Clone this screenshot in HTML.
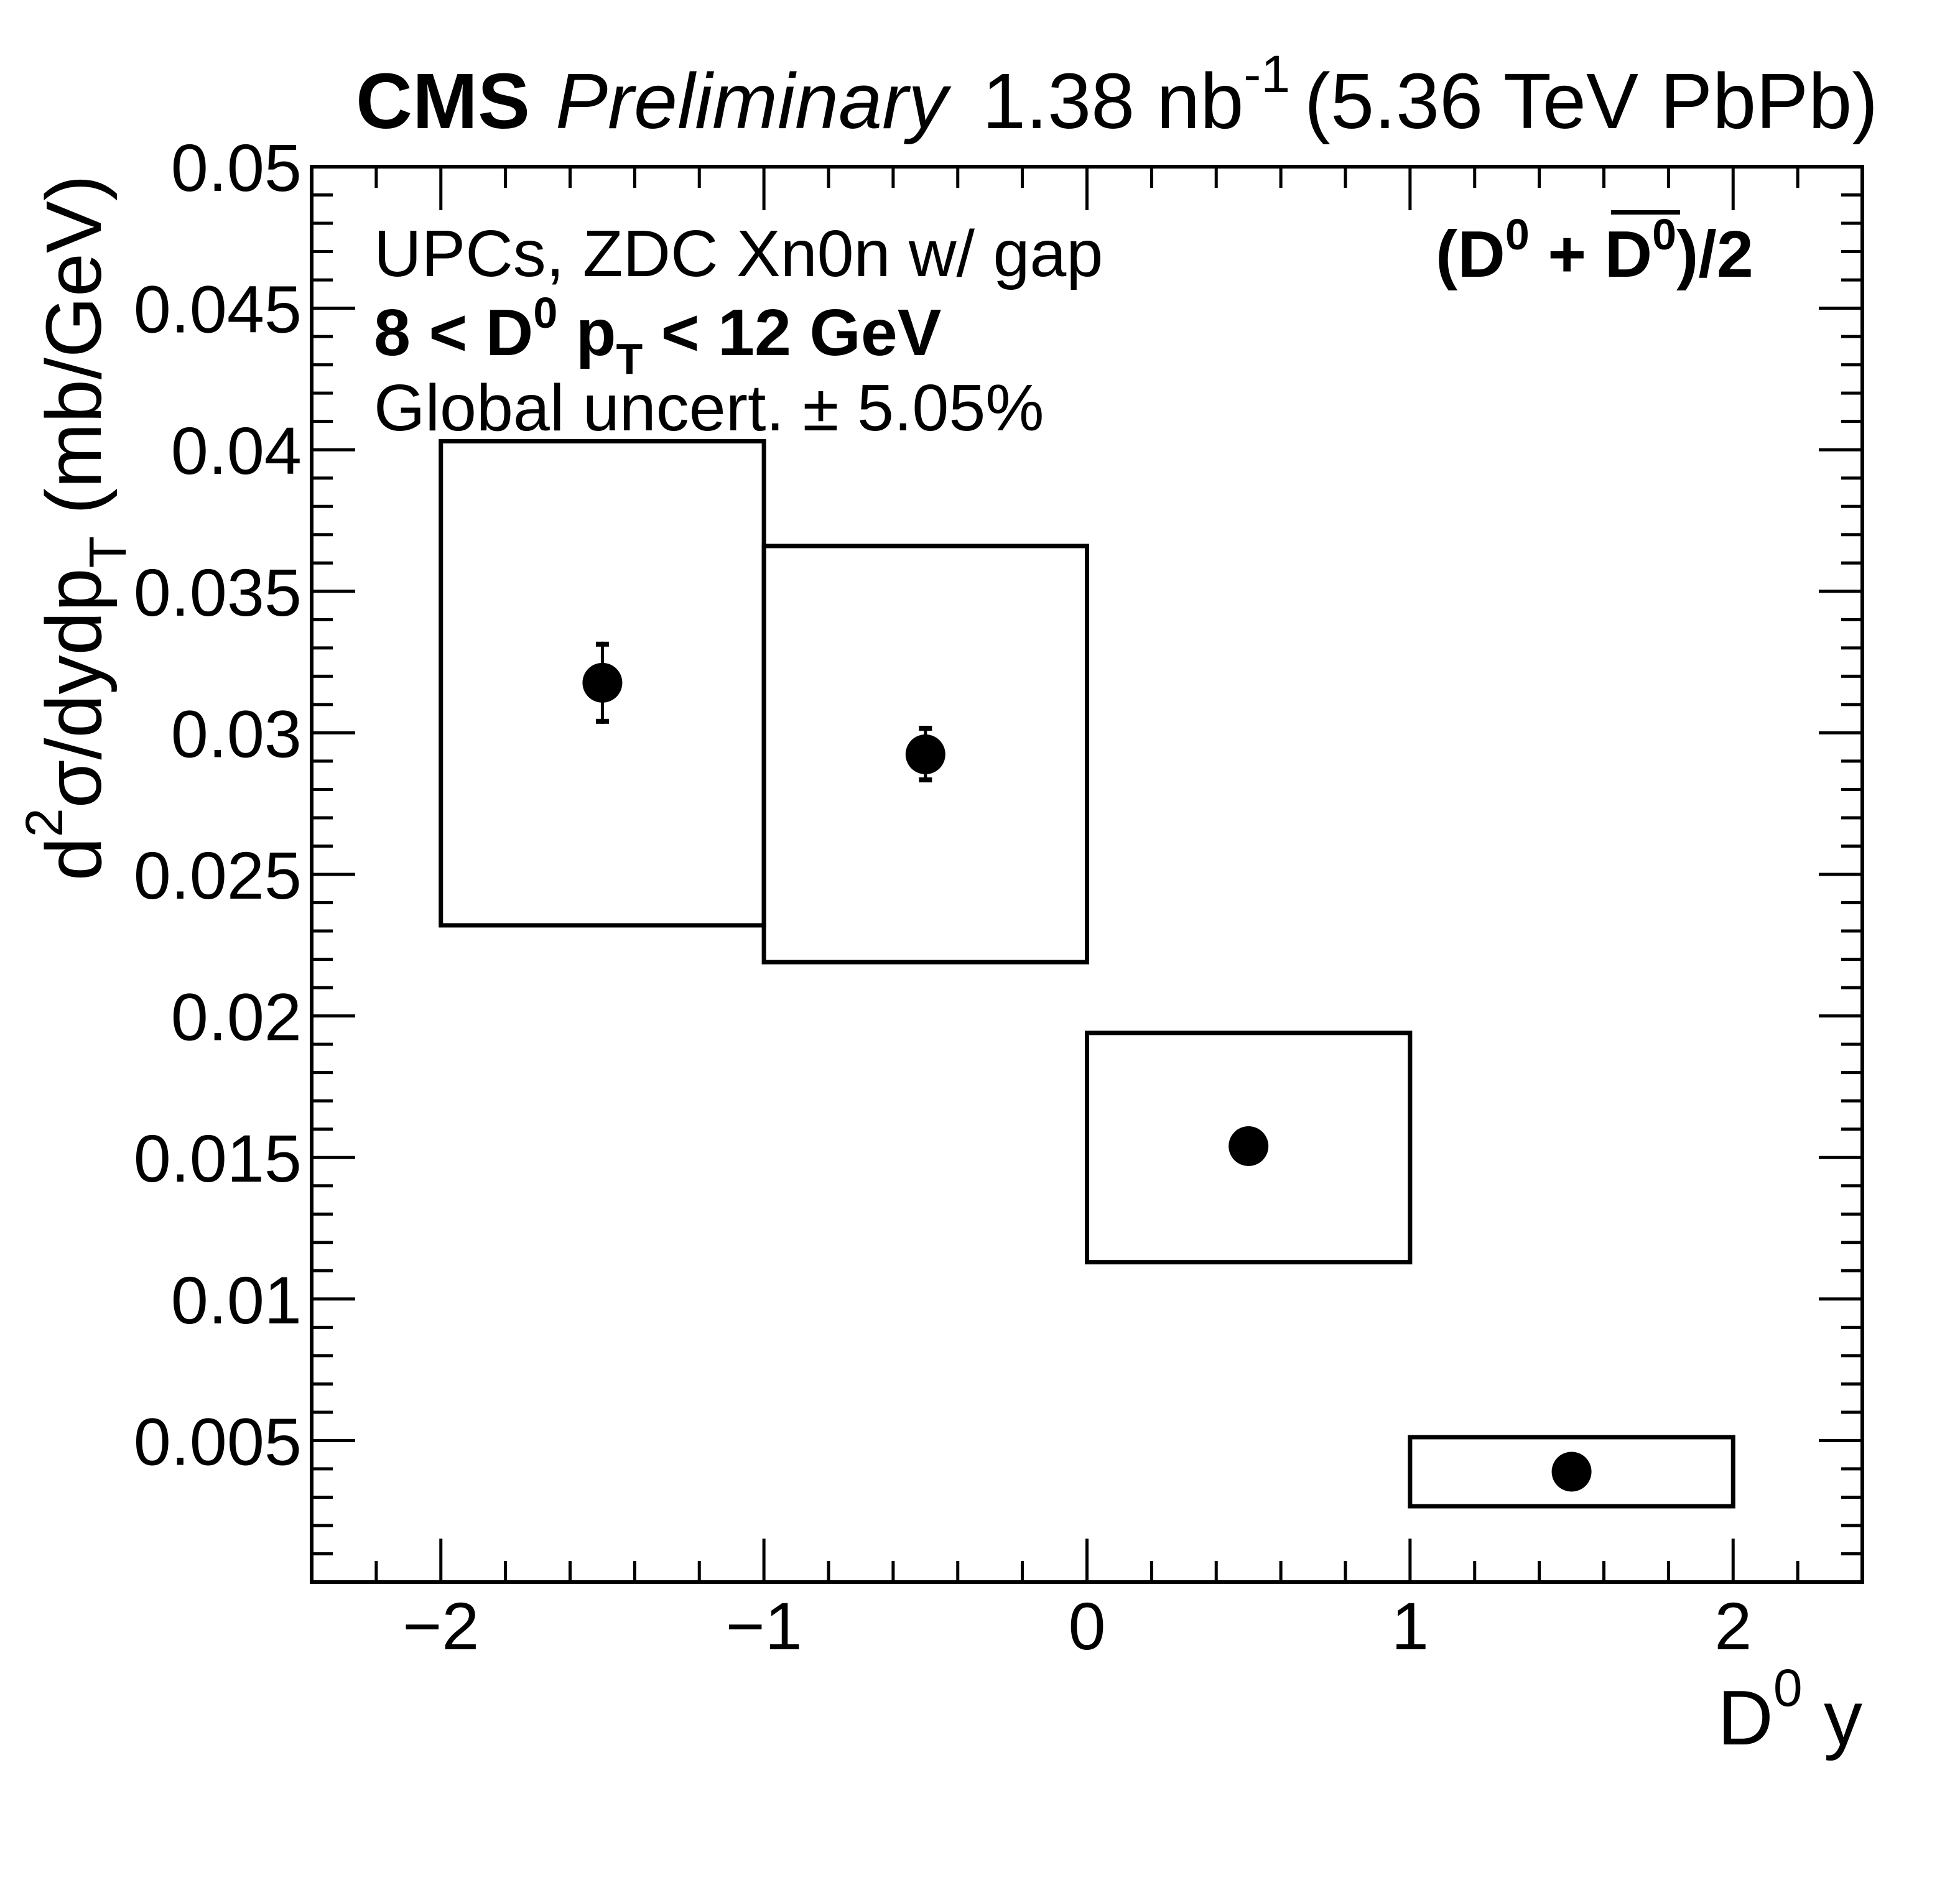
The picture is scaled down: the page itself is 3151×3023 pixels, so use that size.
<!DOCTYPE html>
<html><head><meta charset="utf-8"><style>
html,body{margin:0;padding:0;background:#fff;}
svg{display:block;font-family:"Liberation Sans",Arial,sans-serif;}
</style></head><body>
<svg id="chart" width="3151" height="3023" viewBox="0 0 3151 3023" xmlns="http://www.w3.org/2000/svg">
<rect x="0" y="0" width="3151" height="3023" fill="#fff"/>
<g id="title" font-size="126" fill="#000">
<text x="572" y="206" font-weight="bold">CMS</text>
<text x="893" y="206" font-style="italic">Preliminary</text>
<text x="1579" y="206">1.38 nb<tspan font-size="84" dy="-58">-1</tspan></text>
<text x="2097" y="206">(5.36 TeV PbPb)</text>
</g>
<g id="frame-g"></g>
<g id="marks"></g>
<g id="texts" fill="#000">
<text x="601" y="444" font-size="106">UPCs, ZDC Xn0n w/ gap</text>
<text x="601" y="571" font-size="106" font-weight="bold">8 &lt; D<tspan font-size="70" dy="-44">0</tspan><tspan dy="44"> p</tspan><tspan font-size="70" dy="30">T</tspan><tspan dy="-30"> &lt; 12 GeV</tspan></text>
<text x="601" y="692" font-size="106">Global uncert. ± 5.05%</text>
<text x="2308" y="445" font-size="106" font-weight="bold">(D<tspan font-size="70" dy="-44">0</tspan><tspan dy="44"> + </tspan><tspan>D</tspan><tspan font-size="70" dy="-44">0</tspan><tspan dy="44">)/2</tspan></text>
<rect x="2590" y="338" width="111" height="7" fill="#000"/>
<text x="2994" y="2805" font-size="124" text-anchor="end">D<tspan font-size="84" dy="-62">0</tspan><tspan dy="62"> y</tspan></text>
<text transform="translate(162,281) rotate(-90)" font-size="126" text-anchor="end">d<tspan font-size="84" dy="-62">2</tspan><tspan dy="62">σ/dydp</tspan><tspan font-size="84" dy="40">T</tspan><tspan dy="-40">  (mb/GeV)</tspan></text>
</g>
</svg>
<script>
const xLow=[-2,-1,0,1];
const xHigh=[-1,0,1,2];
const yVal=[0.03177,0.02924,0.0154,0.0039];
const statUp=[0.00145,0.00101,0.0002,0.0001];
const statDn=[0.00145,0.00099,0.0002,0.0001];
const sysHigh=[0.0403,0.0366,0.0194,0.00512];
const sysLow=[0.0232,0.0219,0.0113,0.00268];
const xTickLabels=["\u22122","\u22121","0","1","2"];
const xTickVals=[-2,-1,0,1,2];
const yTickLabels=["0.005","0.01","0.015","0.02","0.025","0.03","0.035","0.04","0.045","0.05"];
const yTickVals=[0.005,0.01,0.015,0.02,0.025,0.03,0.035,0.04,0.045,0.05];
const L=501,R=2994,T=268,B=2544,XMIN=-2.4,XMAX=2.4,YMIN=0,YMAX=0.05;
const NS="http://www.w3.org/2000/svg";
function X(v){return L+(v-XMIN)/(XMAX-XMIN)*(R-L);}
function Y(v){return B-(v-YMIN)/(YMAX-YMIN)*(B-T);}
function mk(tag,attrs,parent){const e=document.createElementNS(NS,tag);for(const k in attrs)e.setAttribute(k,attrs[k]);parent.appendChild(e);return e;}
const fg=document.getElementById('frame-g');
const marks=document.getElementById('marks');
let fr=mk('rect',{x:L,y:T,width:R-L,height:B-T,fill:'none',stroke:'#000','stroke-width':6},fg);


for(let i=0;i<=24;i++){const v=-2.4+i*0.2;const vr=Math.round(v*10)/10;const major=Math.abs(vr-Math.round(vr))<1e-6;const len=major?70:34;const x=X(vr);
 let t=mk('line',{x1:x,x2:x,y1:B,y2:B-len,stroke:'#000','stroke-width':5},fg);
 
 
 let t2=mk('line',{x1:x,x2:x,y1:T,y2:T+len,stroke:'#000','stroke-width':5},fg);
 
 }
for(let i=0;i<=50;i++){const v=i*0.001;const major=i%5===0;const len=major?70:34;const y=Y(v);
 let t=mk('line',{x1:L,x2:L+len,y1:y,y2:y,stroke:'#000','stroke-width':5},fg);
 
 
 let t2=mk('line',{x1:R,x2:R-len,y1:y,y2:y,stroke:'#000','stroke-width':5},fg);
 
 }
xTickVals.forEach((v,i)=>{let t=mk('text',{x:X(v),y:2652,'font-size':108,'text-anchor':'middle'},fg);t.textContent=xTickLabels[i];
 
 });
yTickVals.forEach((v,i)=>{let t=mk('text',{x:485,y:Y(v)+39,'font-size':108,'text-anchor':'end'},fg);t.textContent=yTickLabels[i];
 
 });
for(let i=0;i<yVal.length;i++){
 let b=mk('rect',{x:X(xLow[i]),y:Y(sysHigh[i]),width:X(xHigh[i])-X(xLow[i]),height:Y(sysLow[i])-Y(sysHigh[i]),fill:'none',stroke:'#000','stroke-width':7},marks);
 
 
 const cx=X((xLow[i]+xHigh[i])/2);
 const yt=Y(yVal[i]+statUp[i]),yb=Y(yVal[i]-statDn[i]);
 let e=mk('line',{x1:cx,x2:cx,y1:yt,y2:yb,stroke:'#000','stroke-width':5},marks);
 
 
 if(statUp[i]>0.0004){
 let c1=mk('rect',{x:cx-10.5,y:yt,width:21,height:8,fill:'#000'},marks);
 
 
 let c2=mk('rect',{x:cx-10.5,y:yb-8,width:21,height:8,fill:'#000'},marks);
 
 }
 let p=mk('circle',{cx:cx,cy:Y(yVal[i]),r:32,fill:'#000'},marks);
 
 
}
</script>
</body></html>
